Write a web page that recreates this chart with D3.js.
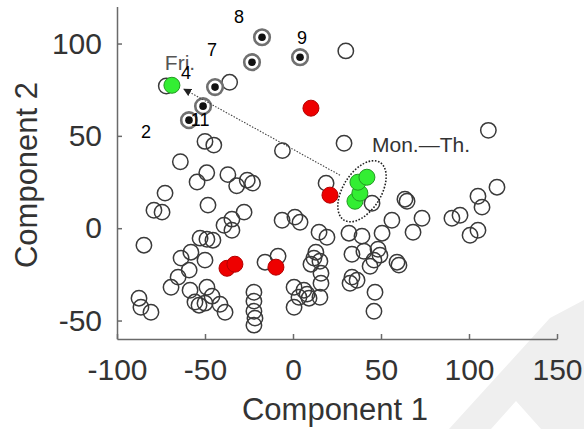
<!DOCTYPE html>
<html>
<head>
<meta charset="utf-8">
<script src="https://cdn.jsdelivr.net/npm/d3@7"></script>
<style>
  body { margin: 0; background: #fff; }
  svg { display: block; }
  text { font-family: "Liberation Sans", Arial, sans-serif; }
</style>
</head>
<body>
<svg id="chart" width="584" height="429"></svg>
<script>
// days (component 1, component 2)
var openPts = [
  [30,96],[-36,79],[-72,77],[-50,47],[-45,45],[-6,42],[29,46],[111,53],[-64,36],
  [-49,30],[-37,29],[-54.5,25],[-32,23],[-26,26],[-23,24.4],[-72.7,19],[-79,9.7],
  [-74.4,8.7],[-48.3,12.5],[-27.8,8.7],[-34.7,4.9],[-39.2,1.6],[-34.7,-1.1],
  [-84.7,-9.2],[-52.8,-5.4],[-48.9,-6],[-45.5,-6.5],[-58,-13],[-63.6,-16.2],
  [-50,-17.3],[-59,-22.7],[-65.3,-26.5],[-69.3,-32],[-58.5,-33.6],[-48.9,-32],
  [-46,-36.8],[-55.7,-40],[-53.4,-41.7],[-50,-40.6],[-41.5,-41.2],[-38.6,-45.5],
  [-87.5,-37.9],[-86.4,-42.8],[-80.7,-45.5],[-22.2,-34.7],[-22.2,-39.5],[-22.2,-45],
  [-21.6,-48.7],[-22.2,-52.5],[-15.9,-18.4],[-8.5,-15.2],[18.8,24.4],[44.9,13.5],
  [63.6,15.7],[64.8,14.6],[-6.2,4.3],[1.1,6],[4,3.2],[56.2,4.3],[14.8,-2.2],
  [19.3,-4.9],[31.8,-2.7],[39.2,-4.3],[50.6,-2.7],[68.2,-2.2],[73.3,5.4],[13,-13],
  [11.9,-16.2],[15.3,-17.9],[10.2,-19.5],[33.5,-14.1],[40.3,-12.5],[48.3,-11.4],
  [49.4,-14.6],[46,-17.3],[59.1,-18.4],[60.2,-20],[43.8,-20.6],[15.9,-24.4],
  [15.9,-29.8],[33.5,-26.5],[36.4,-28.2],[32.4,-29.8],[0.6,-32],[6.2,-33.6],
  [8,-35.7],[3.4,-37.4],[9.1,-37.9],[15.3,-37.4],[0.6,-42.8],[46.6,-34.7],
  [46,-45],[115.9,22.2],[105.1,17.3],[107.4,11.4],[90.3,5.4],[94.9,7],
  [100.6,-3.8],[105.1,-1.1]
];
var dotPts = [[-17.6,103.4],[-23.3,89.9],[4,92.6],[-44.3,76.4],[-51.1,66.1],[-59.1,58.5]];
var redPts = [[10.2,65],[21,17.9],[-37.5,-21.7],[-33,-19.5],[-9.7,-21.1]];
var greenPts = [[-68.8,77.4],[35.2,14.6],[38,19],[36.9,24.9],[42,27.6]];

var numLabels = [["8",-30.7,114.3],["7",-46,96.4],["9",5.1,103.4],["4",-60.8,84.2],["11",-52.8,58.5],["2",-83.5,52]];
var arrowFrom = [26.7,28.7], arrowTo = [-62,75.3];
var ellipseC = [39.2,20];

var xTicks = [-100,-50,0,50,100,150];
var yTicks = [-50,0,50,100];

var svg = d3.select("#chart");

var x = d3.scaleLinear().domain([-100,150]).range([117,557]);
var y = d3.scaleLinear().domain([-60,120]).range([339,6.6]);

// light watermark in the corner
svg.append("polygon")
   .attr("points","449,429 550,318 584,300 584,429 541,429 516,401 491,429")
   .attr("fill","#efefef");

// axes, plain hyphen for negatives
var fmt = function(d){ return String(d); };
svg.append("g")
   .attr("transform","translate(0,339)")
   .call(d3.axisBottom(x).tickValues(xTicks).tickFormat(fmt).tickSizeInner(-5).tickSizeOuter(0).tickPadding(20));
svg.append("g")
   .attr("transform","translate(117,0)")
   .call(d3.axisLeft(y).tickValues(yTicks).tickFormat(fmt).tickSizeInner(-5).tickSizeOuter(0).tickPadding(15));

svg.selectAll(".domain, .tick line")
   .attr("stroke","#6a6a6a")
   .attr("stroke-width",1.5);
svg.selectAll(".tick text")
   .attr("font-size","30px")
   .attr("fill","#333")
   .style("font-family","'Liberation Sans', Arial, sans-serif");

svg.append("text")
   .attr("x",335)
   .attr("y",420)
   .attr("text-anchor","middle")
   .attr("font-size","31px")
   .attr("fill","#333")
   .text("Component 1");
svg.append("text")
   .attr("transform","translate(37,175) rotate(-90)")
   .attr("text-anchor","middle")
   .attr("font-size","31px")
   .attr("fill","#333")
   .text("Component 2");

// open circles
svg.append("g").selectAll("circle")
   .data(openPts)
   .enter()
   .append("circle")
   .attr("cx", function(d){ return x(d[0]); })
   .attr("cy", function(d){ return y(d[1]); })
   .attr("r", 7.7)
   .attr("fill","none")
   .attr("stroke","#3a3a3a")
   .attr("stroke-width",1.5);

// circled dots
var dots = svg.append("g").selectAll("g")
   .data(dotPts)
   .enter()
   .append("g");
dots.append("circle")
   .attr("cx", function(d){ return x(d[0]); })
   .attr("cy", function(d){ return y(d[1]); })
   .attr("r", 7.8)
   .attr("fill","#fff")
   .attr("stroke","#707070")
   .attr("stroke-width",2.6);
dots.append("circle")
   .attr("cx", function(d){ return x(d[0]); })
   .attr("cy", function(d){ return y(d[1]); })
   .attr("r", 3.8)
   .attr("fill","#111");

// ellipse and arrow
svg.append("ellipse")
   .attr("transform","translate(" + x(ellipseC[0]) + "," + y(ellipseC[1]) + ") rotate(32)")
   .attr("rx",19)
   .attr("ry",34)
   .attr("fill","none")
   .attr("stroke","#222")
   .attr("stroke-width",1.6)
   .attr("stroke-dasharray","1.6,1.6");

svg.append("defs").append("marker")
   .attr("id","head")
   .attr("viewBox","0 0 10 10")
   .attr("refX",9)
   .attr("refY",5)
   .attr("markerWidth",8)
   .attr("markerHeight",8)
   .attr("markerUnits","userSpaceOnUse")
   .attr("orient","auto")
   .append("path")
   .attr("d","M0,0 L10,5 L0,10 z")
   .attr("fill","#222");

svg.append("line")
   .attr("x1", x(arrowFrom[0]))
   .attr("y1", y(arrowFrom[1]))
   .attr("x2", x(arrowTo[0]))
   .attr("y2", y(arrowTo[1]))
   .attr("stroke","#444")
   .attr("stroke-width",1.1)
   .attr("stroke-dasharray","1.5,1.5")
   .attr("marker-end","url(#head)");

// red and green days
svg.append("g").selectAll("circle")
   .data(redPts)
   .enter()
   .append("circle")
   .attr("cx", function(d){ return x(d[0]); })
   .attr("cy", function(d){ return y(d[1]); })
   .attr("r", 8)
   .attr("fill","#ee0000")
   .attr("stroke","#b30000")
   .attr("stroke-width",1);

svg.append("g").selectAll("circle")
   .data(greenPts)
   .enter()
   .append("circle")
   .attr("cx", function(d){ return x(d[0]); })
   .attr("cy", function(d){ return y(d[1]); })
   .attr("r", 8)
   .attr("fill","#33ee33")
   .attr("stroke","#229922")
   .attr("stroke-width",1);

// annotations
svg.append("text")
   .attr("x", x(-64.2))
   .attr("y", y(89.9))
   .attr("dy",".35em")
   .attr("text-anchor","middle")
   .attr("font-size","21px")
   .attr("fill","#555")
   .text("Fri.");

svg.append("g").selectAll("text")
   .data(numLabels)
   .enter()
   .append("text")
   .attr("x", function(d){ return x(d[1]); })
   .attr("y", function(d){ return y(d[2]); })
   .attr("dy",".35em")
   .attr("text-anchor","middle")
   .attr("font-size","18px")
   .attr("fill","#000")
   .text(function(d){ return d[0]; });

svg.append("text")
   .attr("x", x(44.9))
   .attr("y", y(45))
   .attr("dy",".35em")
   .attr("font-size","21px")
   .attr("fill","#333")
   .text("Mon.\u2014Th.");
</script>
</body>
</html>
